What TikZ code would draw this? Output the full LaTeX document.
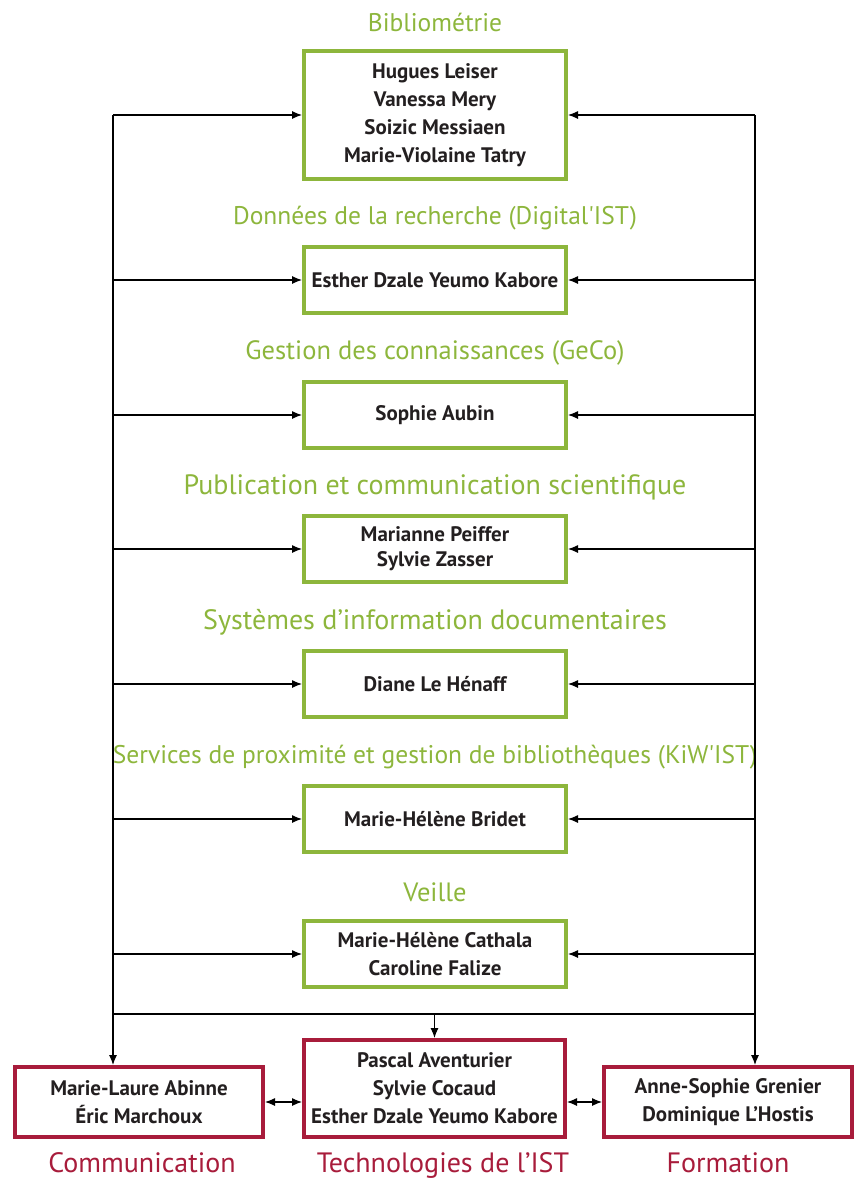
\documentclass[tikz,border=0pt]{standalone}
\usepackage{fontspec}
\setmainfont{PT Sans}
\usetikzlibrary{arrows.meta}
\definecolor{vert}{RGB}{141,182,60}
\definecolor{rouge}{RGB}{168,28,59}
\definecolor{encre}{RGB}{35,31,32}
\tikzset{
  pole/.style={draw=vert,line width=4pt,minimum width=262pt,inner sep=0pt,align=center,text=encre,font=\bfseries\fontsize{21}{28}\selectfont},
  service/.style={draw=rouge,line width=4pt,inner sep=0pt,align=center,text=encre,font=\bfseries\fontsize{21}{28}\selectfont},
  titre/.style={text=vert,inner sep=0pt},
  nomservice/.style={text=rouge,inner sep=0pt,anchor=base,font=\fontsize{28}{28}\selectfont},
  fleche/.style={-{Latex[length=10pt,width=8pt]},line width=1.1pt}
}
\begin{document}
\begin{tikzpicture}[x=1pt,y=-1pt]
\useasboundingbox (0,0) rectangle (855,1178);
\foreach \i/\y/\h/\fs/\titre/\noms in {
  1/115/128/25.5/{Bibliométrie}/{Hugues Leiser\\Vanessa Mery\\Soizic Messiaen\\Marie-Violaine Tatry},
  2/280/66/25.5/{Données de la recherche (Digital\textquotesingle IST)}/{Esther Dzale Yeumo Kabore},
  3/415/66/26.5/{Gestion des connaissances (GeCo)}/{Sophie Aubin},
  4/549/66/28/{Publication et communication scientifique}/{Marianne Peiffer\\[-3pt]Sylvie Zasser},
  5/684/66/28/{Systèmes d’information documentaires}/{Diane Le Hénaff},
  6/819/66/25.5/{Services de proximité et gestion de bibliothèques (KiW\textquotesingle IST)}/{Marie-Hélène Bridet},
  7/954/66/26.5/{Veille}/{Marie-Hélène Cathala\\Caroline Falize}}
{
    \node[pole,minimum height=\h] (p\i) at (435,\y) {\noms};
    \node[titre,font=\fontsize{\fs}{\fs}\selectfont] (t\i) at ([yshift=27pt]p\i.north) {\titre};
    \coordinate (g\i) at (113,\y);
    \coordinate (d\i) at (755,\y);
    \draw[fleche] (g\i) -- (p\i);
    \draw[fleche] (d\i) -- (p\i);
}
\node[service,minimum width=248pt,minimum height=70pt] (com) at (139,1102) {Marie-Laure Abinne\\Éric Marchoux};
\node[service,minimum width=261pt,minimum height=97pt] (ist) at (434.5,1088.5) {Pascal Aventurier\\Sylvie Cocaud\\Esther Dzale Yeumo Kabore};
\node[service,minimum width=248pt,minimum height=70pt] (for) at (728,1102) {Anne-Sophie Grenier\\Dominique L’Hostis};
\node[nomservice] at (142,1172) {Communication};
\node[nomservice] at (443,1172) {Technologies de l’IST};
\node[nomservice] at (728,1172) {Formation};
\coordinate (hb) at (113,1014);
\draw[fleche] (g1) -- (g1 |- com.north);
\draw[fleche] (d1) -- (d1 |- for.north);
\draw[line width=1.1pt] (hb) -- (hb -| d1);
\draw[fleche] (ist.north |- hb) -- (ist.north);
\draw[{Latex[length=10pt,width=8pt]}-{Latex[length=10pt,width=8pt]},line width=1.1pt] (com.east) -- (com.east -| ist.west);
\draw[{Latex[length=10pt,width=8pt]}-{Latex[length=10pt,width=8pt]},line width=1.1pt] (for.west) -- (for.west -| ist.east);
\end{tikzpicture}
\end{document}
